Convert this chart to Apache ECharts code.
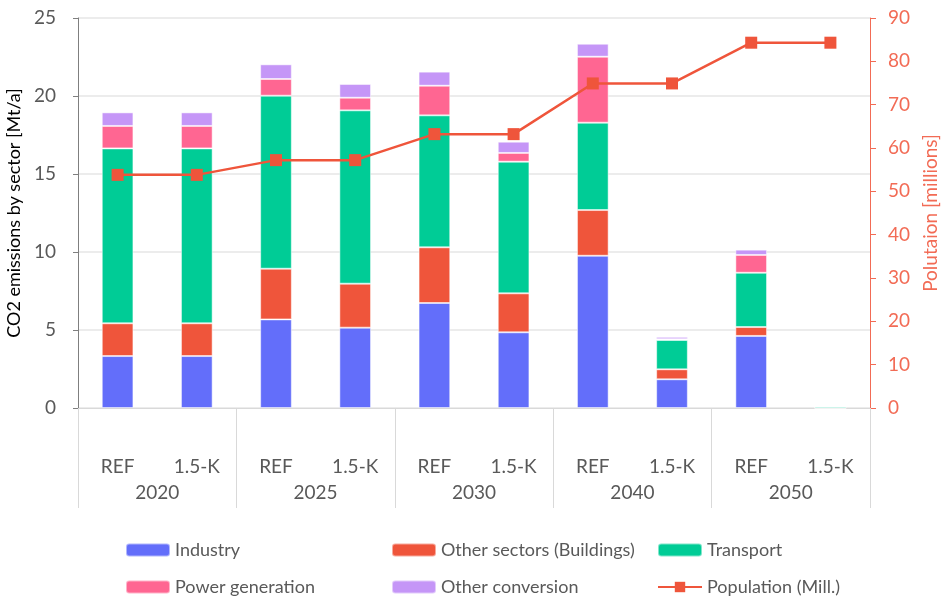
<!DOCTYPE html>
<html>
<head>
<meta charset="utf-8">
<script src="https://cdn.jsdelivr.net/npm/echarts@6/dist/echarts.min.js"></script>
<style>
  html, body { margin: 0; padding: 0; background: #fff; }
  #main { width: 943px; height: 596px; }
</style>
</head>
<body>
<div id="main"></div>
<script>
// scenario per bar, and the year groups under them
var scenarios = ['REF', '1.5-K', 'REF', '1.5-K', 'REF', '1.5-K', 'REF', '1.5-K', 'REF', '1.5-K']
var years = ['2020', '2025', '2030', '2040', '2050']

// emissions by sector [Mt/a]
var industry = [3.33, 3.33, 5.68, 5.15, 6.73, 4.85, 9.76, 1.84, 4.62, 0]
var otherSectors = [2.1, 2.1, 3.25, 2.82, 3.57, 2.5, 2.93, 0.64, 0.57, 0]
var transport = [11.21, 11.21, 11.09, 11.11, 8.46, 8.44, 5.6, 1.88, 3.48, 0.1]
var powerGen = [1.44, 1.44, 1.07, 0.81, 1.9, 0.56, 4.23, 0.05, 1.14, 0]
var otherConversion = [0.87, 0.87, 0.94, 0.88, 0.9, 0.72, 0.83, 0.15, 0.34, 0]

// population [millions]
var population = [53.8, 53.8, 57.2, 57.2, 63.2, 63.2, 74.9, 74.9, 84.3, 84.3]

var font = 'Lato'
var textGray = '#595959'
var red = '#ef553b'
var axisRed = '#f26b55'

var chart = echarts.init(document.getElementById('main'))

function barSeries(name, data, color) {
    return {
        name: name,
        type: 'bar',
        stack: 'co2',
        barWidth: '40%',
        data: data,
        itemStyle: { color: color, borderColor: 'rgba(255,255,255,0.5)', borderWidth: 1 },
        emphasis: { disabled: true }
    }
}

// one legend per entry so the grid of the original can be kept
function legendAt(name, left, top) {
    return {
        left: left, top: top,
        itemWidth: 44, itemHeight: 13,
        textStyle: { fontFamily: font, fontSize: 18, color: textGray },
        data: [name]
    }
}

var option = {
    animation: false,
    textStyle: { fontFamily: font },
    grid: { left: 78, right: 73, top: 18, bottom: 188, outerBoundsMode: 'none', containLabel: false },
    legend: [
        legendAt('Industry', 120, 536),
        legendAt('Other sectors (Buildings)', 386, 536),
        legendAt('Transport', 652, 536),
        legendAt('Power generation', 120, 573),
        legendAt('Other conversion', 386, 573),
        legendAt('Population (Mill.)', 652, 573)
    ],
    xAxis: [
        {
            type: 'category',
            data: scenarios,
            axisLine: { lineStyle: { color: '#d9d9d9' } },
            axisTick: { show: false },
            axisLabel: { margin: 49, fontSize: 19, color: textGray, fontFamily: font }
        },
        {
            type: 'category',
            data: years,
            position: 'bottom',
            axisLine: { show: false },
            axisTick: { show: true, length: 100, lineStyle: { color: '#d9d9d9' } },
            axisLabel: { margin: 75, fontSize: 19, color: textGray, fontFamily: font }
        }
    ],
    yAxis: [
        {
            type: 'value',
            min: 0,
            max: 25,
            interval: 5,
            name: 'CO2 emissions by sector [Mt/a]',
            nameLocation: 'middle',
            nameGap: 52,
            nameTextStyle: { fontSize: 18, color: '#000', fontFamily: font },
            axisLine: { show: true, lineStyle: { color: '#7f7f7f' } },
            axisTick: { show: true, length: 5, lineStyle: { color: '#7f7f7f' } },
            axisLabel: { fontSize: 19, color: textGray, fontFamily: font, margin: 22 },
            splitLine: { lineStyle: { color: '#e6e6e6', width: 1.5 } }
        },
        {
            type: 'value',
            min: 0,
            max: 90,
            interval: 10,
            position: 'right',
            name: 'Polutaion [millions]',
            nameLocation: 'middle',
            nameGap: 50,
            nameRotate: 90,
            nameTextStyle: { fontSize: 19, color: axisRed, fontFamily: font },
            axisLine: { show: true, lineStyle: { color: axisRed } },
            axisTick: { show: true, length: 6, lineStyle: { color: axisRed } },
            axisLabel: { fontSize: 19, color: axisRed, fontFamily: font, margin: 18 },
            splitLine: { show: false }
        }
    ],
    series: [
        barSeries('Industry', industry, '#636efa'),
        barSeries('Other sectors (Buildings)', otherSectors, '#ef553b'),
        barSeries('Transport', transport, '#00cc96'),
        barSeries('Power generation', powerGen, '#ff6692'),
        barSeries('Other conversion', otherConversion, '#c596f7'),
        {
            name: 'Population (Mill.)',
            type: 'line',
            yAxisIndex: 1,
            data: population,
            symbol: 'rect',
            symbolSize: 12,
            lineStyle: { color: red, width: 2.5 },
            itemStyle: { color: red },
            emphasis: { disabled: true },
            z: 5
        }
    ]
}

chart.setOption(option)
</script>
</body>
</html>
